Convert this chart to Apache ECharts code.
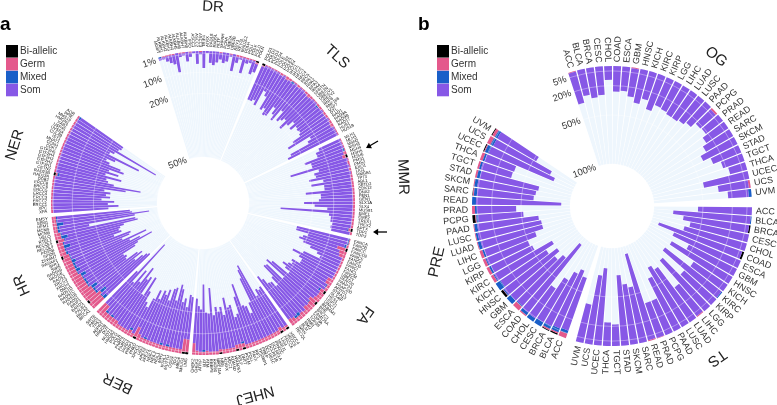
<!DOCTYPE html>
<html><head><meta charset="utf-8">
<style>html,body{margin:0;padding:0;background:#fff}#c{width:777px;height:405px}</style>
<script src="https://cdn.jsdelivr.net/npm/echarts@6/dist/echarts.min.js"></script>
</head><body><div id="c"></div>
<script>
const legendNames=['Bi-allelic','Germ','Mixed','Som'];
const colors=['#000000','#e4598c','#1a5fc8','#8758e6'];
// ---- chart a: genes per pathway
const genesDR=['MGMT','ALKBH1','ALKBH2','ALKBH3','ALKBH4','ALKBH5','ALKBH6','ALKBH7','ALKBH8','FTO','ASCC1','ASCC2','ASCC3','TRIP4','ATRX','RAD18','RAD5L','HLTF','SHPRH','PCNA','UBE2A','UBE2B','REV1','REV3L','MAD2L2','POLH','POLI','POLK','POLQ','POLN'];
const genesTLS=['POLD1','POLD2','POLD3','POLD4','POLE','POLE2','POLE3','POLE4','RFC1','RFC2','RFC3','RFC4','RFC5','RPA1','RPA2','RPA3','RPA4','SPRTN','UBE2N','UBE2V1','UBE2V2','RNF8','RNF168','USP7','DTL','RAD1','RAD9A','RAD9B','RAD17','HUS1','HUS1B'];
const genesMMR=['MLH1','MLH3','MSH2','MSH3','MSH4','MSH5','MSH6','PMS1','PMS2','EXO1','LIG1','HMGB1','TP73','ABL1','SETD2','CDK12','DNA2','FEN1','GEN1','SLX1A','SLX4','MUS81','EME1','EME2','TREX1','TREX2','APTX','TDP1','TDP2'];
const genesFA=['FANCA','FANCB','FANCC','FANCD2','FANCE','FANCF','FANCG','FANCI','FANCL','FANCM','UBE2T','FAAP20','FAAP24','FAAP100','APITD1','STRA13','SLX4IP','HES1','USP21','UIMC1','BABAM1','BRE','BRCC3','FAM175A','TOP3A','TOP3B','RMI1','RMI2','BLM','WRN','RECQL'];
const genesNHEJ=['XRCC4','XRCC5','XRCC6','LIG4','NHEJ1','PRKDC','DCLRE1A','DCLRE1B','DCLRE1C','PNKP','TP53BP1','RIF1','PAXX','POLL','POLM','DNTT','APLF','WRAP53','KDM4D','MDC1','H2AFX','NBN','MRE11A','RAD50','RBBP8','ATM','ATR','ATRIP','CHEK1','CHEK2'];
const genesBER=['UNG','SMUG1','MBD4','TDG','OGG1','MUTYH','NTHL1','MPG','NEIL1','NEIL2','NEIL3','APEX1','APEX2','LIG3','XRCC1','PNKD','PARP1','PARP2','PARP3','PARP4','POLB','POLG','HMGB2','NUDT1','DUT','RRM2B','ADPRT','TP53','PARG','SIRT6'];
const genesHR=['BRCA1','BRCA2','PALB2','BARD1','BRIP1','RAD51','RAD51B','RAD51C','RAD51D','DMC1','XRCC2','XRCC3','RAD52','RAD54L','RAD54B','SWI5','SFR1','SWSAP1','ZSWIM7','SPIDR','PDS5B','RECQL4','RECQL5','RTEL1','HELQ','MCM8','MCM9','HFM1','SEM1','EMSY'];
const genesNER=['XPA','XPC','ERCC1','ERCC2','ERCC3','ERCC4','ERCC5','ERCC6','ERCC8','DDB2','RAD23A','RAD23B','CETN2','GTF2H1','GTF2H2','GTF2H3','GTF2H4','GTF2H5','CDK7','CCNH','MNAT1','ISY1','CUL4B','UVSSA','USP45','XAB2','HMGN1','MMS19','PPIE','AQR'];

const somDR=[1,1,2.5,3.5,4.5,9,1.5,1,4.5,2,1,6,1,8,1,5.5,6.5,5,3,5,4,1,8,3,1,7.5,2,1.5,6.5,4];
const germDR=[0,.5,.5,.5,.5,0,.5,.5,0,.5,0,0,.5,0,0,0,0,0,.5,0,0,.5,0,.8,.8,.5,.8,.5,.5,.8];
const mixDR=[.5,0,0,0,0,0,0,0,0,0,0,0,0,0,0,0,0,0,0,0,0,0,0,0,0,0,0,0,0,0];
const biDR=[0,0,0,0,0,0,0,0,0,0,0,0,0,0,0,0,0,0,0,0,0,0,0,0,0,0,0,0,0,.8];

const somTLS=[17,18,17,19,11,13,19,18,20,20,14,18,20,14,19,17,15,20,17,14,16,14,15,14,15,20,23,11,14,24,26];
const germTLS=[.5,.5,.5,.5,.5,.5,1,.5,1.5,1,.5,.5,1,.5,.5,1,1.5,1,.5,.5,1,1,.5,1,1,.5,1,1.5,.5,.5,.5];
const mixTLS=[0,0,0,0,0,0,0,0,0,0,1,0,0,0,0,0,0,0,0,0,.8,0,0,0,0,0,0,0,0,0,0];
const biTLS=[1,0,0,0,0,0,0,0,0,0,0,0,0,0,0,0,0,0,0,0,0,0,0,0,0,0,0,0,0,0,0];

const somMMR=[11,13,13,19,16,15,28,14,17,16,20,13,19,13,13,22,15,15,16,23,18,12,34,11,10,10,9,8,9];
const germMMR=[.5,.5,.5,.5,1.5,1.5,.5,1,.5,1,.5,1,1,1,1,1,1,1,1,1,1,1,1,1,1,1,1,1,1];
const mixMMR=[0,0,0,.8,0,0,0,0,0,0,0,0,0,0,0,0,0,0,0,0,0,0,0,0,0,0,0,.5,0];
const biMMR=[0,0,0,0,0,1,0,0,0,0,0,0,0,0,0,0,0,0,0,0,0,0,0,0,0,0,0,1,0];

const somFA=[25,25,18,17,20,18,16,12,10,18,23,19,17,15,19,19,21,21,20,17,26,27,16,27,27,22,17,19,20,23,25];
const germFA=[.5,.5,1,4,3.5,3,1,1,1,1,1,1,1,3,3,1.5,1.5,2,2.5,2.5,3,3.5,3.5,3,3.5,2,2.5,2,2,3,3.5];
const mixFA=[.5,.5,1,0,0,0,0,0,0,0,0,0,0,0,0,.5,0,.8,0,0,0,0,.5,0,0,0,0,1.5,1,0,0];
const biFA=[0,0,0,1,0,0,0,0,0,0,0,0,0,0,0,0,0,1,0,0,0,1,0,0,0,0,0,0,0,0,0];

const somNHEJ=[22,21,21,19,36,34,30,18,13,17,18,29,23,15,12,19,18,24,16,20,18,20,17,30,18,18,31,20,21,21];
const germNHEJ=[1,2,2,2,2,2,2,2,2,2,2,2,2,2,2,3,2,2,2,2,2,1.5,1.5,1.5,1.5,2,1.5,1.5,2,5.5];
const mixNHEJ=[0,0,0,0,0,0,0,0,0,0,0,0,0,0,.8,0,0,0,0,0,0,0,0,0,0,0,.8,0,0,0];
const biNHEJ=[1,0,1,0,0,0,0,0,0,0,0,0,0,0,1,0,1,0,0,0,0,.8,0,0,0,0,0,0,0,0];

const somBER=[20,21,20,24,22,28,29,22,27,27,21,26,23,24,20,23,15,14,14,21,28,18,27,24,30,20,27,18,39,21];
const germBER=[6,6,2,2,2,2,2,2,2,2,2,2,2,2,2,3,5,2,3,2,2,2,2,3,3,3,3,3,6,6];
const mixBER=[0,0,0,0,0,0,1,0,1,0,0,0,0,.8,0,0,0,0,1,0,0,0,0,0,0,1,0,1,0,0];
const biBER=[1,1,0,0,0,0,0,0,0,0,0,0,0,0,0,0,1,0,0,0,0,0,0,0,0,0,0,0,0,0];

const somHR=[28,28.5,23,23,28,24,21.5,22,21,28.5,28.5,39.5,32,28,37,24,29.5,30.5,23,27.5,24,27.5,28.5,34,35.5,14,36,41,35.5,34.5];
const germHR=[7,7,7,6,6,6,5,5,5,5,5,4,4,4,4,4,4,3,3,3,3,3,3,3,3,2,2,2,2,2];
const mixHR=[2,.5,3,1,1,3,.5,1,1,.5,2.5,.5,2,1,1,2,.5,.5,1,.5,3,.5,.5,3,.5,1,1,3,.5,.5];
const biHR=[0,0,1,0,0,0,0,0,0,0,0,0,0,0,0,0,0,1,0,0,0,0,1,0,0,0,0,0,0,0];

const somNER=[26,31,26,29,23,27,25,27,24,34,41,26,25,24,31,23,29,24,31,29,23,21,25,37,21,23,45,24,25,24];
const germNER=[1,.8,.8,.8,.8,.8,.8,.8,.8,.8,.8,.8,.8,.8,.8,.8,.8,.8,.8,.8,.8,.8,.8,.8,.8,.8,.8,.8,.8,.8];
const mixNER=[0,0,0,0,0,0,0,0,0,0,0,1,0,0,0,0,0,0,0,0,0,0,0,0,0,0,0,0,0,1];
const biNER=[0,0,0,0,0,0,0,0,0,0,0,1,0,0,0,0,0,0,0,0,0,0,0,0,0,0,0,0,0,0];

const tickLabelsA=[1,10,20,50];
const tickLabelsB=[5,20,50,100];
// ---- chart b: cancer types, repeated in three groups
const cancers=['ACC','BLCA','BRCA','CESC','CHOL','COAD','ESCA','GBM','HNSC','KICH','KIRC','KIRP','LGG','LIHC','LUAD','LUSC','PAAD','PCPG','PRAD','READ','SARC','SKCM','STAD','TGCT','THCA','UCEC','UCS','UVM'];
const somOG=[33,27,31,29,14,26,25,29,35,29,38,31,32,34,34,32,29,21,22,27,32,39,31,23,18,47,31,21];
const germOG=[.8,0,0,0,0,0,0,.8,0,0,0,0,0,0,0,0,0,2,0,0,0,0,0,0,0,0,2,0];
const mixOG=[0,0,0,0,0,0,0,0,0,0,0,0,0,0,0,0,0,0,0,0,0,0,0,0,0,0,0,3];
const biOG=[0,0,0,0,0,0,0,0,0,0,0,0,0,0,0,0,0,0,0,0,0,0,0,0,0,0,0,0];
const somTS=[55,79,67.5,61,66,90,74,55,72,42,73,44,69,37,65,70,60,38,37.5,91,58,62,72,22,24,79,71,40];
const germTS=[0,0,0,0,0,0,0,0,0,0,0,0,0,1,0,0,0,0,.5,1,0,0,0,0,0,0,0,0];
const mixTS=[0,1,0,0,0,0,0,0,0,0,1,0,0,0,0,0,0,0,0,0,0,0,0,0,0,0,0,0];
const biTS=[0,0,1.5,0,0,2,0,0,0,0,0,0,0,0,0,0,0,0,0,0,0,0,0,0,0,0,0,0];
const somPRE=[57,64,60,50,37,88,66,60,68,56,68,47,46,55,65,66,63,46,40,87,58,60,61,32,32,72,65,46];
const germPRE=[5,1.5,1.5,0,0,1.5,5,0,.5,0,3,3,3,3,1,1,1,1,3,0,1,1,2,2,3,1,4,3];
const mixPRE=[3,4,3,5,4,3,1,5,1,6,1,2,1,2,3,2,3,2,2,4,3,3,3,2,2,4,3,3];
const biPRE=[0,1.5,1,0,0,0,0,0,2.5,0,0,0,0,0,0,0,0,3,0,0,.5,0,0,0,0,1,0,1];

const blankA=29, blankB=10;
function joinSections(lists,fill,tail){const out=[];lists.forEach((l,i)=>{if(i)out.push(fill);out.push(...l)});for(let i=0;i<tail;i++)out.push(fill);return out}
const catsA=joinSections([genesDR,genesTLS,genesMMR,genesFA,genesNHEJ,genesBER,genesHR,genesNER],'',blankA);
const stackA=[
 joinSections([biDR,biTLS,biMMR,biFA,biNHEJ,biBER,biHR,biNER],null,blankA),
 joinSections([germDR,germTLS,germMMR,germFA,germNHEJ,germBER,germHR,germNER],null,blankA),
 joinSections([mixDR,mixTLS,mixMMR,mixFA,mixNHEJ,mixBER,mixHR,mixNER],null,blankA),
 joinSections([somDR,somTLS,somMMR,somFA,somNHEJ,somBER,somHR,somNER],null,blankA)];
const catsB=joinSections([cancers,cancers,cancers],'',blankB);
const stackB=[
 joinSections([biOG,biTS,biPRE],null,blankB),
 joinSections([germOG,germTS,germPRE],null,blankB),
 joinSections([mixOG,mixTS,mixPRE],null,blankB),
 joinSections([somOG,somTS,somPRE],null,blankB)];
const maxA=50,maxB=100;

function barSeries(stack,cats,pi,maxV,gap){
  const common={type:'bar',coordinateSystem:'polar',polarIndex:pi,barCategoryGap:gap,barGap:'-100%',silent:true,animation:false};
  const out=[{...common,name:'bg'+pi,z:1,data:cats.map(c=>c?maxV:null),itemStyle:{color:'#eef6fd'}}];
  stack.forEach((d,i)=>out.push({...common,name:legendNames[i],stack:'s'+pi,z:2,data:d,itemStyle:{color:colors[i]}}));
  return out;
}
function labelSeries(cats,pi,off,size,color){
  return {type:'custom',coordinateSystem:'polar',polarIndex:pi,silent:true,animation:false,z:3,
    data:cats.map((c,i)=>[0,i]),encode:{radius:0,angle:1},
    renderItem(params,api){
      const i=api.value(1),name=cats[i];
      if(!name)return null;
      const p=api.coord([0,i]),cs=params.coordSys;
      const dx=p[0]-cs.cx,dy=p[1]-cs.cy,r=Math.hypot(dx,dy);
      const ux=dx/r,uy=dy/r;
      const x=p[0]+ux*off,y=p[1]+uy*off;
      let rot=-Math.atan2(dy,dx),align='left';
      if(ux<0){rot+=Math.PI;align='right'}
      return {type:'text',x,y,rotation:rot,silent:true,style:{text:name,fontSize:size,fontFamily:'Liberation Sans',fill:color,align,verticalAlign:'middle'}};
    }};
}
function legend(left){return {left,top:45,orient:'vertical',itemWidth:12,itemHeight:12.6,itemGap:.3,padding:0,data:legendNames,selectedMode:false,textStyle:{fontFamily:'Liberation Sans',fontSize:10,color:'#333',padding:[0,0,0,-3]},icon:'rect'}}
function radial(pi,maxV,ticks,rot,margin){return {polarIndex:pi,type:'value',min:0,max:maxV,inverse:true,z:6,
  axisLine:{show:false},axisTick:{show:false,customValues:ticks},
  axisLabel:{customValues:ticks,formatter:'{value}%',rotate:rot,margin,fontFamily:'Liberation Sans',fontSize:9.5,color:'#333',hideOverlap:false},
  splitLine:{show:true,lineStyle:{color:'rgba(255,255,255,.5)',width:.7}}}}
function angular(pi,cats,start){return {polarIndex:pi,type:'category',data:cats,startAngle:start,boundaryGap:true,clockwise:true,
  axisLine:{show:false},axisTick:{show:false},axisLabel:{show:false},splitLine:{show:false},splitArea:{show:false}}}
function sectionText(text,x,y,deg){return {type:'text',x,y,rotation:-deg*Math.PI/180,silent:true,style:{text,fontFamily:'Liberation Sans',fontSize:15,fill:'#222',align:'center',verticalAlign:'middle'}}}
function arrow(x0,y0,x1,y1){const a=Math.atan2(y1-y0,x1-x0),h=6;return [
 {type:'line',silent:true,shape:{x1:x0,y1:y0,x2:x1-Math.cos(a)*3,y2:y1-Math.sin(a)*3},style:{stroke:'#000',lineWidth:1.3}},
 {type:'polygon',silent:true,shape:{points:[[x1,y1],[x1-h*Math.cos(a-.55),y1-h*Math.sin(a-.55)],[x1-h*Math.cos(a+.55),y1-h*Math.sin(a+.55)]]},style:{fill:'#000'}}]}
const sectionsA=[['DR',213,7,3],['TLS',337,57,42],['MMR',403,177,88],['FA',365,315,125],['NHEJ',255,395,165],['BER',118,383,205],['HR',22,285,246],['NER',15,145,287]];
const sectionsB=[['OG',716,57,38],['TS',717,358,145],['PRE',437,262,283]];
const chart=echarts.init(document.getElementById('c'),null,{renderer:'canvas'});
chart.setOption({animation:false,backgroundColor:'#fff',
  legend:[legend(6),legend(437)],
  polar:[{center:[203,203],radius:[46,152]},{center:[612,206],radius:[42,140]}],
  angleAxis:[angular(0,catsA,107.2),angular(1,catsB,108.5)],
  radiusAxis:[radial(0,maxA,tickLabelsA,20,3),radial(1,maxB,tickLabelsB,20,3)],
  series:[...barSeries(stackA,catsA,0,maxA,'12%'),labelSeries(catsA,0,4,4.2,'#111'),
          ...barSeries(stackB,catsB,1,maxB,'14%'),labelSeries(catsB,1,4,9,'#333')],
  graphic:[
    {type:'text',x:0,y:15,silent:true,style:{text:'a',fontFamily:'Liberation Sans',fontSize:19,fontWeight:'bold',fill:'#000'}},
    {type:'text',x:418,y:15,silent:true,style:{text:'b',fontFamily:'Liberation Sans',fontSize:19,fontWeight:'bold',fill:'#000'}},
    ...sectionsA.map(s=>sectionText(...s)),...sectionsB.map(s=>sectionText(...s)),
    ...arrow(378,141,366,148),...arrow(387,232,373,232)
  ]
});
</script></body></html>
